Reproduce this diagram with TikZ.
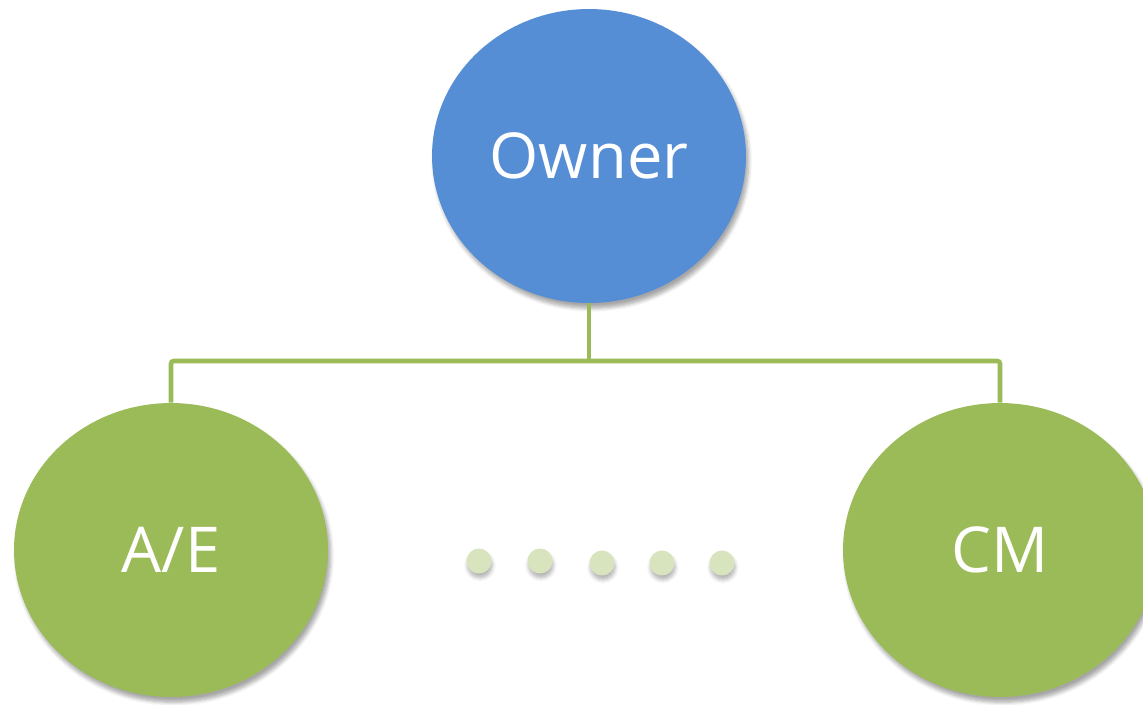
\documentclass[tikz,border=0pt]{standalone}
\usepackage{fontspec}
\setmainfont{Open Sans}
\usepackage{tikz}
\usetikzlibrary{shapes.geometric,positioning,shadows.blur}

\definecolor{ownerblue}{HTML}{558ED5}
\definecolor{leafgreen}{HTML}{9BBB59}
\definecolor{dotgreen}{HTML}{D7E4BD}

\tikzset{
    bigbubble/.style={ellipse, inner sep=0pt, minimum width=6.28cm, minimum height=5.88cm,
        text=white, font=\fontsize{36}{40}\selectfont,
        blur shadow={shadow xshift=1.5pt, shadow yshift=-3pt, shadow blur steps=6, shadow opacity=35}},
    ownerbubble/.style={bigbubble, fill=ownerblue},
    partybubble/.style={bigbubble, fill=leafgreen},
    moredot/.style={circle, inner sep=0pt, minimum size=0.5cm, fill=dotgreen,
        blur shadow={shadow xshift=0.5pt, shadow yshift=-2.5pt, shadow blur steps=5, shadow opacity=30}},
    link/.style={draw=leafgreen, line width=2.6pt, rounded corners=1.5pt}
}

\begin{document}
\begin{tikzpicture}[x=0.02cm, y=-0.02cm]
    \useasboundingbox (0,0) rectangle (1143,704);

    % top of the tree
    \node[ownerbubble] (owner) at (589,156) {Owner};

    % the parties below
    \node[partybubble] (ae) at (171,550) {A/E};
    \node[partybubble] (cm) at (1000,550) {CM};

    % dots for the others in between
    \foreach \i/\px/\py in {1/479/561, 2/540/561, 3/602/563, 4/662/563, 5/722/563}
        \node[moredot] (dot\i) at (\px,\py) {};

    % branch lines
    \coordinate (bus) at (589,361);
    \draw[link] (owner.south) -- (bus);
    \draw[link] (ae.north) -- (ae.north |- bus) -- (cm.north |- bus) -- (cm.north);
\end{tikzpicture}
\end{document}
